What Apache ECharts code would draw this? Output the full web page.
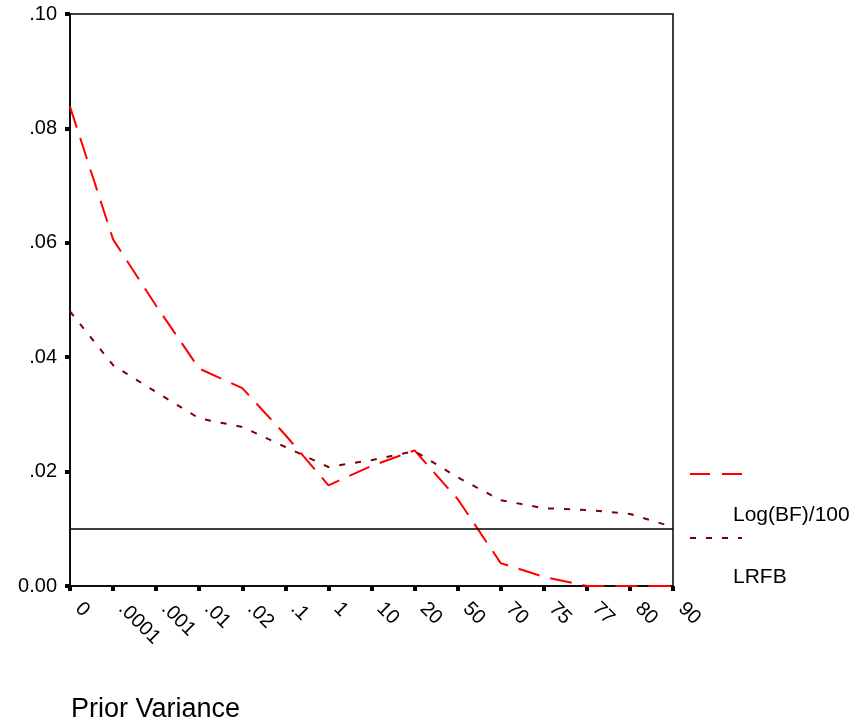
<!DOCTYPE html>
<html>
<head>
<meta charset="utf-8">
<script src="https://cdn.jsdelivr.net/npm/echarts@6/dist/echarts.min.js"></script>
<style>
  html, body { margin: 0; padding: 0; background: #fff; }
  #chart1 { width: 858px; height: 727px; }
</style>
</head>
<body>
<div id="chart1"></div>
<script>
// prior variance categories (x axis)
const priorVariance = ['0', '.0001', '.001', '.01', '.02', '.1', '1', '10', '20', '50', '70', '75', '77', '80', '90'];
// Log(BF)/100
const logBF = [0.0838, 0.0606, 0.0490, 0.0380, 0.0346, 0.0264, 0.0176, 0.0210, 0.0237, 0.0152, 0.0040, 0.0016, 0.0, 0.0, 0.0];
// LRFB
const lrfb = [0.0480, 0.0386, 0.0339, 0.0293, 0.0278, 0.0243, 0.0208, 0.0220, 0.0236, 0.0190, 0.0150, 0.0136, 0.0133, 0.0126, 0.0103];
// horizontal reference line
const refLine = 0.0104;
const yTicks = [0, 0.02, 0.04, 0.06, 0.08, 0.10];

const FONT = 'Liberation Sans, Arial, Helvetica, sans-serif';

function yLabel(v) {
  if (v === 0) return '0.00';
  return v.toFixed(2).replace(/^0/, '');
}

function getOption() {
  return {
    backgroundColor: '#fff',
    animation: false,
    textStyle: { fontFamily: FONT, color: '#000' },
    title: {
      text: 'Prior Variance',
      left: 66,
      top: 691,
      textStyle: { fontFamily: FONT, fontSize: 27, fontWeight: 'normal', color: '#000' }
    },
    grid: {
      left: 70, right: 185, top: 14, bottom: 141,
      show: true, borderColor: '#000', borderWidth: 1.5
    },
    xAxis: {
      type: 'category',
      boundaryGap: false,
      data: priorVariance,
      axisLine: { lineStyle: { color: '#000', width: 1.5 } },
      axisTick: { length: 5, lineStyle: { color: '#000', width: 4 } },
      axisLabel: {
        rotate: -45, margin: 11, padding: [0, 0, 0, 12],
        fontFamily: FONT, fontSize: 20, color: '#000', interval: 0
      },
      splitLine: { show: false }
    },
    yAxis: {
      type: 'value',
      min: yTicks[0], max: yTicks[yTicks.length - 1], interval: 0.02,
      axisLine: { show: true, lineStyle: { color: '#000', width: 1.5 } },
      axisTick: { show: true, length: 5, lineStyle: { color: '#000', width: 4 } },
      axisLabel: { margin: 13, fontFamily: FONT, fontSize: 20, color: '#000', formatter: yLabel },
      splitLine: { show: false }
    },
    series: [
      {
        name: 'Log(BF)/100',
        type: 'line',
        data: logBF,
        symbol: 'none',
        lineStyle: { color: '#ff0000', width: 2, type: [22, 11] },
        markLine: {
          silent: true,
          symbol: 'none',
          label: { show: false },
          lineStyle: { color: '#000', width: 1.5, type: 'solid' },
          data: [{ yAxis: refLine }]
        }
      },
      {
        name: 'LRFB',
        type: 'line',
        data: lrfb,
        symbol: 'none',
        lineStyle: { color: '#800000', width: 2, type: [6, 10] }
      }
    ],
    graphic: [
      { type: 'line', shape: { x1: 690, y1: 474, x2: 742, y2: 474 },
        style: { stroke: '#ff0000', lineWidth: 2, lineDash: [20, 12] } },
      { type: 'text', x: 733, y: 515,
        style: { text: 'Log(BF)/100', font: '21px ' + FONT, fill: '#000', textVerticalAlign: 'middle' } },
      { type: 'line', shape: { x1: 690, y1: 538, x2: 742, y2: 538 },
        style: { stroke: '#800000', lineWidth: 2, lineDash: [6, 10] } },
      { type: 'text', x: 733, y: 577,
        style: { text: 'LRFB', font: '21px ' + FONT, fill: '#000', textVerticalAlign: 'middle' } }
    ]
  };
}

const initChart = () => {
  const chart1 = echarts.init(document.getElementById('chart1'));
  chart1.setOption(getOption());
  window.chart1 = chart1;
};
initChart();
</script>
</body>
</html>
